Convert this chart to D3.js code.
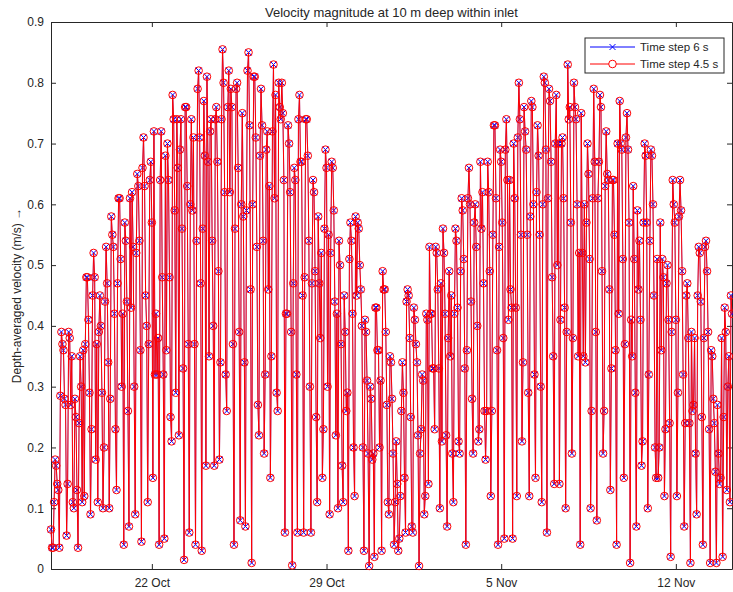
<!DOCTYPE html>
<html>
<head>
<meta charset="utf-8">
<script src="https://cdn.jsdelivr.net/npm/d3@7"></script>
<style>
  body { margin: 0; background: #fff; }
  text { font-family: "Liberation Sans", Arial, Helvetica, sans-serif; fill: #262626; }
</style>
</head>
<body>
<svg id="chart" width="733" height="592"></svg>
<script>
// Hourly model output, first sample at 17 Oct 23:00
const startTime = new Date(2015, 9, 17, 23, 0);

// Depth-averaged velocity magnitude (m/s), run with a 6 s time step
const velocityStep6 = [
  0.065,0.035,0.035,0.11,0.18,0.17,0.14,0.13,0.035,0.285,0.39,0.37,0.36,0.28,0.27,0.055,0.14,0.39,0.38,0.27,0.35,0.11,0.10,0.28,0.25,0.13,0.035,0.24,0.35,0.30,0.11,0.36,0.12,0.37,0.48,0.48,0.41,0.29,0.09,0.23,0.45,0.52,0.48,0.18,0.37,0.11,0.39,
  0.45,0.40,0.29,0.10,0.20,0.44,0.53,0.47,0.34,0.10,0.28,0.58,0.55,0.53,0.42,0.23,0.13,0.47,0.61,0.61,0.51,0.30,0.42,0.04,0.57,0.54,0.44,0.26,0.07,0.61,0.43,0.62,0.53,0.30,0.09,0.52,0.65,0.63,0.54,0.36,0.045,0.66,0.71,0.63,0.45,0.40,0.11,0.37,0.64,0.67,0.57,0.15,0.72,0.32,
  0.42,0.32,0.38,0.04,0.64,0.72,0.48,0.32,0.05,0.68,0.36,0.70,0.64,0.48,0.25,0.21,0.78,0.74,0.59,0.29,0.74,0.66,0.22,0.69,0.74,0.56,0.33,0.015,0.76,0.76,0.63,0.37,0.06,0.60,0.74,0.59,0.71,0.37,0.04,0.54,0.79,0.82,0.71,0.47,0.03,0.56,0.77,0.68,
  0.17,0.81,0.67,0.35,0.72,0.74,0.54,0.40,0.17,0.74,0.76,0.67,0.49,0.18,0.34,0.74,0.855,0.80,0.62,0.32,0.26,0.76,0.82,0.62,0.79,0.76,0.37,0.04,0.56,0.79,0.80,0.66,0.39,0.08,0.60,0.75,0.58,0.34,0.07,0.59,0.82,0.85,0.73,0.46,0.01,0.60,0.81,0.81,0.71,0.53,0.27,0.22,0.68,0.79,0.73,0.54,0.19,0.32,0.69,0.72,0.46,0.63,0.15,0.35,0.72,0.83,0.61,0.78,0.29,0.26,0.80,0.76,0.74,
  0.80,0.75,0.64,0.06,0.42,0.42,0.73,0.70,0.62,0.39,0.006,0.47,0.66,0.64,0.32,0.06,0.74,0.78,0.67,0.67,0.45,0.06,0.48,0.74,0.74,0.68,0.54,0.30,0.06,0.47,0.64,0.62,0.49,0.25,0.11,0.58,0.47,0.38,0.52,0.15,0.23,0.56,0.69,0.66,0.30,0.55,0.09,0.52,0.67,0.66,0.59,0.44,0.22,0.42,0.10,0.54,0.50,0.37,0.17,0.11,0.45,0.39,0.26,0.29,0.03,0.51,0.57,0.54,0.42,0.20,0.12,0.58,0.45,
  0.57,0.56,0.50,0.46,0.40,0.20,0.03,0.41,0.39,0.31,0.19,0.005,0.30,0.28,0.18,0.19,0.02,0.43,0.43,0.36,0.36,0.20,0.31,0.03,0.49,0.46,0.46,0.39,0.27,0.11,0.09,0.35,0.34,0.28,0.19,0.04,0.11,0.21,0.14,0.03,0.05,0.12,0.26,0.34,0.29,0.15,0.06,0.44,0.46,0.45,0.38,0.25,0.07,0.06,0.43,0.41,0.37,0.34,0.22,0.005,0.19,0.23,0.32,0.31,0.09,0.12,0.42,0.41,0.14,0.53,
  0.42,0.42,0.33,0.33,0.23,0.53,0.52,0.46,0.33,0.10,0.47,0.21,0.56,0.52,0.42,0.22,0.07,0.38,0.49,0.35,0.45,0.19,0.11,0.42,0.56,0.54,0.43,0.21,0.19,0.49,0.61,0.59,0.51,0.33,0.04,0.36,0.61,0.66,0.60,0.44,0.28,0.19,0.57,0.60,0.53,0.40,0.21,0.23,0.67,0.56,0.62,0.47,0.26,0.18,0.26,0.67,0.62,0.49,0.12,0.26,0.55,0.73,0.73,0.61,0.36,0.04,0.53,0.69,0.67,0.57,0.38,0.05,0.69,0.74,0.64,0.41,
  0.64,0.46,0.43,0.05,0.70,0.61,0.43,0.12,0.71,0.80,0.74,0.55,0.21,0.34,0.76,0.72,0.69,0.55,0.29,0.12,0.58,0.77,0.76,0.60,0.32,0.15,0.62,0.73,0.68,0.55,0.30,0.11,0.60,0.81,0.80,0.69,0.06,0.61,0.79,0.77,0.67,0.48,0.35,0.14,0.70,0.78,0.50,0.70,0.14,0.41,0.70,0.71,0.61,0.43,0.10,0.39,0.83,0.74,0.76,0.57,0.19,0.38,0.80,0.76,0.74,0.60,0.35,0.52,0.04,
  0.75,0.52,0.35,0.60,0.34,0.57,0.70,0.65,0.51,0.10,0.26,0.61,0.79,0.67,0.39,0.08,0.61,0.67,0.78,0.76,0.49,0.19,0.26,0.63,0.72,0.65,0.64,0.46,0.13,0.33,0.64,0.64,0.55,0.36,0.04,0.70,0.42,0.77,0.70,0.69,0.51,0.15,0.37,0.71,0.75,0.69,0.57,0.01,0.41,0.35,0.63,0.51,0.29,0.07,0.59,0.46,0.54,0.41,0.17,0.21,0.57,0.70,0.68,0.57,0.10,0.32,0.54,0.69,0.68,0.60,0.45,0.20,0.15,0.51,
  0.15,0.20,0.57,0.36,0.51,0.48,0.12,0.23,0.47,0.50,0.41,0.24,0.02,0.39,0.64,0.60,0.57,0.41,0.12,0.29,0.58,0.64,0.59,0.49,0.32,0.07,0.24,0.45,0.47,0.38,0.24,0.01,0.39,0.26,0.27,0.38,0.19,0.09,0.45,0.53,0.52,0.44,0.25,0.04,0.38,0.53,0.54,0.49,0.39,0.23,0.01,0.36,0.35,0.28,0.24,0.16,0.01,0.27,0.19,0.14,0.15,0.38,0.02,0.25,0.43,0.39,0.13,0.30,0.35,0.11,0.45,0.42
];

// Same quantity, run with a 4.5 s time step
const velocityStep45 = [
  0.065,0.035,0.035,0.11,0.18,0.17,0.14,0.13,0.035,0.285,0.39,0.37,0.36,0.28,0.27,0.055,0.14,0.39,0.38,0.27,0.35,0.11,0.10,0.28,0.25,0.13,0.035,0.24,0.35,0.30,0.11,0.36,0.12,0.37,0.48,0.48,0.41,0.29,0.09,0.23,0.45,0.52,0.48,0.18,0.37,0.11,0.39,
  0.45,0.40,0.29,0.10,0.20,0.44,0.53,0.47,0.34,0.10,0.28,0.58,0.55,0.53,0.42,0.23,0.13,0.47,0.61,0.61,0.51,0.30,0.42,0.04,0.57,0.54,0.44,0.26,0.07,0.61,0.43,0.62,0.53,0.30,0.09,0.52,0.65,0.63,0.54,0.36,0.045,0.66,0.71,0.63,0.45,0.40,0.11,0.37,0.64,0.67,0.57,0.15,0.72,0.32,
  0.42,0.32,0.38,0.04,0.64,0.72,0.48,0.32,0.05,0.68,0.36,0.70,0.64,0.48,0.25,0.21,0.78,0.74,0.59,0.29,0.74,0.66,0.22,0.69,0.74,0.56,0.33,0.015,0.76,0.76,0.63,0.37,0.06,0.60,0.74,0.59,0.71,0.37,0.04,0.54,0.79,0.82,0.71,0.47,0.03,0.56,0.77,0.68,
  0.17,0.81,0.67,0.35,0.72,0.74,0.54,0.40,0.17,0.74,0.76,0.67,0.49,0.18,0.34,0.74,0.855,0.80,0.62,0.32,0.26,0.76,0.82,0.62,0.79,0.76,0.37,0.04,0.56,0.79,0.80,0.66,0.39,0.08,0.60,0.75,0.58,0.34,0.07,0.59,0.82,0.85,0.73,0.46,0.01,0.60,0.81,0.81,0.71,0.53,0.27,0.22,0.68,0.79,0.73,0.54,0.19,0.32,0.69,0.72,0.46,0.63,0.15,0.35,0.72,0.83,0.61,0.78,0.29,0.26,0.80,0.76,0.74,
  0.80,0.75,0.64,0.06,0.42,0.42,0.73,0.70,0.62,0.39,0.006,0.47,0.66,0.64,0.32,0.06,0.74,0.78,0.67,0.67,0.45,0.06,0.48,0.74,0.74,0.68,0.54,0.30,0.06,0.47,0.64,0.62,0.49,0.25,0.11,0.58,0.47,0.38,0.52,0.15,0.23,0.56,0.69,0.66,0.30,0.55,0.09,0.52,0.67,0.66,0.59,0.44,0.22,0.42,0.10,0.54,0.50,0.37,0.17,0.11,0.45,0.39,0.26,0.29,0.03,0.51,0.57,0.54,0.42,0.20,0.12,0.58,0.45,
  0.57,0.56,0.50,0.46,0.40,0.20,0.03,0.41,0.39,0.31,0.19,0.005,0.30,0.28,0.18,0.19,0.02,0.43,0.43,0.36,0.36,0.20,0.31,0.03,0.49,0.46,0.46,0.39,0.27,0.11,0.09,0.35,0.34,0.28,0.19,0.04,0.11,0.21,0.14,0.03,0.05,0.12,0.26,0.34,0.29,0.15,0.06,0.44,0.46,0.45,0.38,0.25,0.07,0.06,0.43,0.41,0.37,0.34,0.22,0.005,0.19,0.23,0.32,0.31,0.09,0.12,0.42,0.41,0.14,0.53,
  0.42,0.42,0.33,0.33,0.23,0.53,0.52,0.46,0.33,0.10,0.47,0.21,0.56,0.52,0.42,0.22,0.07,0.38,0.49,0.35,0.45,0.19,0.11,0.42,0.56,0.54,0.43,0.21,0.19,0.49,0.61,0.59,0.51,0.33,0.04,0.36,0.61,0.66,0.60,0.44,0.28,0.19,0.57,0.60,0.53,0.40,0.21,0.23,0.67,0.56,0.62,0.47,0.26,0.18,0.26,0.67,0.62,0.49,0.12,0.26,0.55,0.73,0.73,0.61,0.36,0.04,0.53,0.69,0.67,0.57,0.38,0.05,0.69,0.74,0.64,0.41,
  0.64,0.46,0.43,0.05,0.70,0.61,0.43,0.12,0.71,0.80,0.74,0.55,0.21,0.34,0.76,0.72,0.69,0.55,0.29,0.12,0.58,0.77,0.76,0.60,0.32,0.15,0.62,0.73,0.68,0.55,0.30,0.11,0.60,0.81,0.80,0.69,0.06,0.61,0.79,0.77,0.67,0.48,0.35,0.14,0.70,0.78,0.50,0.70,0.14,0.41,0.70,0.71,0.61,0.43,0.10,0.39,0.83,0.74,0.76,0.57,0.19,0.38,0.80,0.76,0.74,0.60,0.35,0.52,0.04,
  0.75,0.52,0.35,0.60,0.34,0.57,0.70,0.65,0.51,0.10,0.26,0.61,0.79,0.67,0.39,0.08,0.61,0.67,0.78,0.76,0.49,0.19,0.26,0.63,0.72,0.65,0.64,0.46,0.13,0.33,0.64,0.64,0.55,0.36,0.04,0.70,0.42,0.77,0.70,0.69,0.51,0.15,0.37,0.71,0.75,0.69,0.57,0.01,0.41,0.35,0.63,0.51,0.29,0.07,0.59,0.46,0.54,0.41,0.17,0.21,0.57,0.70,0.68,0.57,0.10,0.32,0.54,0.69,0.68,0.60,0.45,0.20,0.15,0.51,
  0.15,0.20,0.57,0.36,0.51,0.48,0.12,0.23,0.47,0.50,0.41,0.24,0.02,0.39,0.64,0.60,0.57,0.41,0.12,0.29,0.58,0.64,0.59,0.49,0.32,0.07,0.24,0.45,0.47,0.38,0.24,0.01,0.39,0.26,0.27,0.38,0.19,0.09,0.45,0.53,0.52,0.44,0.25,0.04,0.38,0.53,0.54,0.49,0.39,0.23,0.01,0.36,0.35,0.28,0.24,0.16,0.01,0.27,0.19,0.14,0.15,0.38,0.02,0.25,0.43,0.39,0.13,0.30,0.35,0.11,0.45,0.42
];

const yTickValues = [0, 0.1, 0.2, 0.3, 0.4, 0.5, 0.6, 0.7, 0.8, 0.9];
const xTickDates = [new Date(2015, 9, 22), new Date(2015, 9, 29), new Date(2015, 10, 5), new Date(2015, 10, 12)];
const xTickLabels = ["22 Oct", "29 Oct", "5 Nov", "12 Nov"];
const seriesNames = ["Time step 6 s", "Time step 4.5 s"];

const AXIS = "#262626";
const svg = d3.select("#chart");
const box = { left: 51, right: 732, top: 22, bottom: 569 };

const times = velocityStep6.map((_, i) => d3.timeHour.offset(startTime, i));
const x = d3.scaleTime().domain(d3.extent(times)).range([box.left, box.right]);
const y = d3.scaleLinear().domain([0, 0.9]).range([box.bottom, box.top]);

// axes: boxed frame with inward ticks on all four sides
function styleAxis(g) {
  g.selectAll("path.domain").attr("stroke", AXIS).attr("stroke-width", 1).attr("fill", "none");
  g.selectAll(".tick line").attr("stroke", AXIS).attr("stroke-width", 1);
  g.selectAll(".tick text").style("font-size", "12px").attr("fill", AXIS);
}
svg.append("g").attr("transform", `translate(0,${box.bottom})`)
  .call(d3.axisBottom(x).tickValues(xTickDates).tickFormat((d, i) => xTickLabels[i])
    .tickSizeInner(-5).tickSizeOuter(0).tickPadding(9))
  .call(styleAxis);
svg.append("g").attr("transform", `translate(0,${box.top})`)
  .call(d3.axisTop(x).tickValues(xTickDates).tickFormat("").tickSizeInner(-5).tickSizeOuter(0))
  .call(styleAxis);
svg.append("g").attr("transform", `translate(${box.left},0)`)
  .call(d3.axisLeft(y).tickValues(yTickValues).tickFormat(d => d === 0 ? "0" : d3.format(".1f")(d))
    .tickSizeInner(-5).tickSizeOuter(0).tickPadding(7))
  .call(styleAxis);
svg.append("g").attr("transform", `translate(${box.right},0)`)
  .call(d3.axisRight(y).tickValues(yTickValues).tickFormat("").tickSizeInner(-5).tickSizeOuter(0))
  .call(styleAxis);

// series: blue (6 s) first, red (4.5 s) drawn over it
const series = [
  { name: seriesNames[0], values: velocityStep6, color: "#0000ff", marker: "x", lw: 0.5 },
  { name: seriesNames[1], values: velocityStep45, color: "#ff0000", marker: "o", lw: 1 }
];
const line = d3.line().x(d => x(d.t)).y(d => y(d.v));
const crossPath = "M-3,-3L3,3M-3,3L3,-3";

series.forEach(s => {
  const pts = s.values.map((v, i) => ({ t: times[i], v }));
  const g = svg.append("g");
  g.append("path").datum(pts).attr("d", line)
    .attr("fill", "none").attr("stroke", s.color).attr("stroke-width", s.lw);
  if (s.marker === "x") {
    g.selectAll("path.mk").data(pts).join("path").attr("class", "mk")
      .attr("transform", d => `translate(${x(d.t)},${y(d.v)})`)
      .attr("d", crossPath).attr("stroke", s.color).attr("stroke-width", 1).attr("fill", "none");
  } else {
    g.selectAll("circle").data(pts).join("circle")
      .attr("cx", d => x(d.t)).attr("cy", d => y(d.v)).attr("r", 3.8)
      .attr("fill", "none").attr("stroke", s.color).attr("stroke-width", 1);
  }
});

// title and y label
svg.append("text").attr("x", (box.left + box.right) / 2).attr("y", 17)
  .attr("text-anchor", "middle").style("font-size", "13px")
  .text("Velocity magnitude at 10 m deep within inlet");
svg.append("text").attr("transform", `translate(21,${(box.top + box.bottom) / 2}) rotate(-90)`)
  .attr("text-anchor", "middle").style("font-size", "12px")
  .text("Depth-averaged velocity (m/s) \u2192");

// legend
const lg = svg.append("g").attr("transform", "translate(585,38)");
lg.append("rect").attr("width", 139).attr("height", 35)
  .attr("fill", "#fff").attr("stroke", AXIS).attr("stroke-width", 1);
series.forEach((s, i) => {
  const cy = 9 + i * 17;
  lg.append("line").attr("x1", 5).attr("x2", 50).attr("y1", cy).attr("y2", cy)
    .attr("stroke", s.color).attr("stroke-width", 1);
  if (s.marker === "x") {
    lg.append("path").attr("transform", `translate(27.5,${cy})`).attr("d", crossPath)
      .attr("stroke", s.color).attr("fill", "none");
  } else {
    lg.append("circle").attr("cx", 27.5).attr("cy", cy).attr("r", 3.8)
      .attr("fill", "#fff").attr("stroke", s.color);
  }
  lg.append("text").attr("x", 55).attr("y", cy + 4).style("font-size", "11.5px").text(s.name);
});
</script>
</body>
</html>
